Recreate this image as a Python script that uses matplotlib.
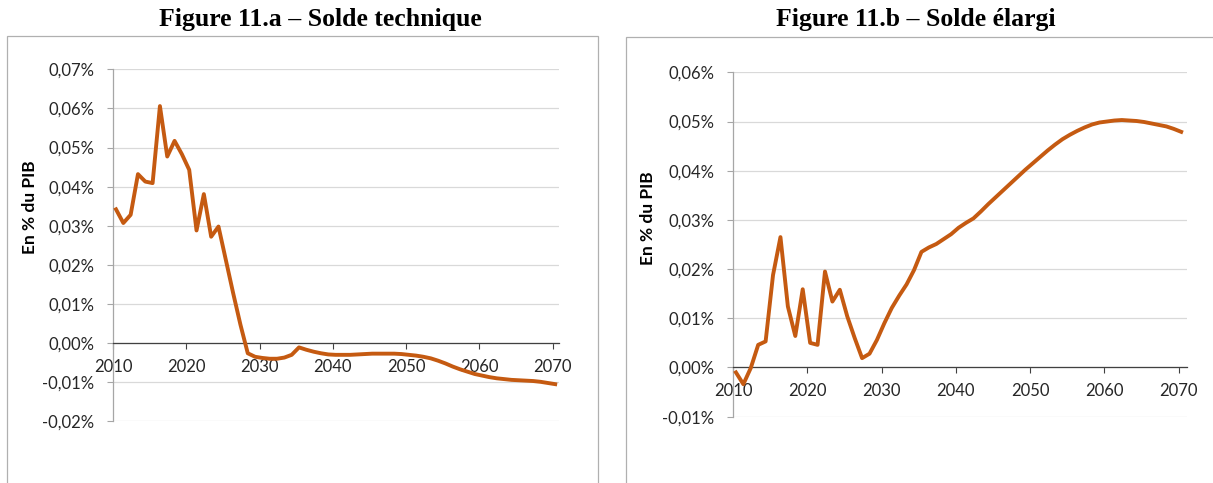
import matplotlib
matplotlib.use("Agg")
import matplotlib.pyplot as plt
from matplotlib.patches import Rectangle
from matplotlib.ticker import FuncFormatter

years = list(range(2010, 2071))

# Figure 11.a - solde technique (% du PIB)
solde_technique = [
    0.0342, 0.0307, 0.0328, 0.0432, 0.0413, 0.0409, 0.0606, 0.0477, 0.0517, 0.0483,
    0.0443, 0.0288, 0.0381, 0.0272, 0.0298, 0.0213, 0.0128, 0.0047, -0.0026, -0.0035,
    -0.0038, -0.0040, -0.0040, -0.0037, -0.0030, -0.0011, -0.0017, -0.0022, -0.0026, -0.0029,
    -0.0030, -0.0030, -0.0030, -0.0029, -0.0028, -0.0027, -0.0027, -0.0027, -0.0027, -0.0028,
    -0.0030, -0.0032, -0.0035, -0.0039, -0.0045, -0.0052, -0.0060, -0.0067, -0.0073, -0.0079,
    -0.0083, -0.0087, -0.0090, -0.0092, -0.0094, -0.0095, -0.0096, -0.0097, -0.0099, -0.0102,
    -0.0105,
]

# Figure 11.b - solde élargi (% du PIB)
solde_elargi = [
    -0.0010, -0.0034, -0.0001, 0.0046, 0.0053, 0.0188, 0.0265, 0.0124, 0.0064, 0.0159,
    0.0050, 0.0046, 0.0195, 0.0134, 0.0158, 0.0104, 0.0060, 0.0019, 0.0028, 0.0056,
    0.0090, 0.0121, 0.0146, 0.0169, 0.0198, 0.0235, 0.0244, 0.0251, 0.0261, 0.0271,
    0.0284, 0.0294, 0.0303, 0.0317, 0.0332, 0.0346, 0.0360, 0.0374, 0.0388, 0.0402,
    0.0415, 0.0428, 0.0441, 0.0453, 0.0464, 0.0473, 0.0481, 0.0488, 0.0494, 0.0498,
    0.0500, 0.0502, 0.0503, 0.0502, 0.0501, 0.0499, 0.0496, 0.0493, 0.0490, 0.0485,
    0.0479,
]

xtick_years = [2010, 2020, 2030, 2040, 2050, 2060, 2070]
yticks_a = [-0.02, -0.01, 0.0, 0.01, 0.02, 0.03, 0.04, 0.05, 0.06, 0.07]
yticks_b = [-0.01, 0.0, 0.01, 0.02, 0.03, 0.04, 0.05, 0.06]
titles = ["Figure 11.a – Solde technique", "Figure 11.b – Solde élargi"]

LINE = "#C55A11"
GRID = "#D9D9D9"
TXT = "#262626"
W, H = 1213, 483

plt.rcParams["font.family"] = ["Lato", "DejaVu Sans"]


def pct(v, _pos=None):
    if abs(v) < 1e-9:
        v = 0.0
    return f"{v:.2f}%".replace(".", ",")


fig = plt.figure(figsize=(W / 100, H / 100), dpi=100)

# chart frames (pixel boxes)
for x0, y0, w, h in [(7, 36, 591, 460), (626, 37, 590, 460)]:
    fig.patches.append(Rectangle((x0 / W, 1 - (y0 + h) / H), w / W, h / H,
                                 transform=fig.transFigure, fill=False,
                                 edgecolor="#B0B0B0", lw=0.9, clip_on=False))

# (values, yticks, axes rect, tick shift, x span, title x, ylabel x, ylabel y)
specs = [
    (solde_technique, yticks_a, [0.0934, 0.1277, 0.3677, 0.7288], 0.37, 60.93, 320, 30, 207),
    (solde_elargi, yticks_b, [0.6045, 0.1373, 0.3738, 0.7130], 0.36, 61.1, 916, 648, 218),
]

for (values, yticks, rect, shift, span, tx, lx, ly), title in zip(specs, titles):
    fig.text(tx / W, 1 - 26 / H, title, ha="center", va="baseline",
             family="Liberation Serif", fontweight="bold", fontsize=18.5)

    ax = fig.add_axes(rect)
    ax.plot(years, values, color=LINE, lw=2.8, solid_joinstyle="round", zorder=3)
    ax.set_xlim(2010 - shift, 2010 - shift + span)
    ax.set_ylim(yticks[0], yticks[-1])
    ax.set_yticks(yticks)
    ax.yaxis.set_major_formatter(FuncFormatter(pct))
    ax.set_xticks([y - shift for y in xtick_years])
    ax.set_xticklabels([str(y) for y in xtick_years])
    ax.grid(axis="y", color=GRID, lw=0.9, zorder=0)
    ax.set_axisbelow(True)
    for s in ["top", "right"]:
        ax.spines[s].set_visible(False)
    ax.spines["bottom"].set_position(("data", 0))
    ax.spines["bottom"].set_color("#404040")
    ax.spines["bottom"].set_linewidth(0.9)
    ax.spines["left"].set_color("#A6A6A6")
    ax.spines["left"].set_linewidth(0.9)
    ax.tick_params(axis="x", direction="out", length=4.5, color="#404040",
                   labelsize=12, labelcolor=TXT, pad=7)
    ax.tick_params(axis="y", direction="out", length=4.5, color="#A6A6A6",
                   labelsize=12, labelcolor=TXT, pad=9)

    fig.text(lx / W, 1 - ly / H, "En % du PIB", rotation=90, ha="center", va="center",
             fontsize=12.5, fontweight="bold", color="black")

fig.savefig("out.png", dpi=100)
